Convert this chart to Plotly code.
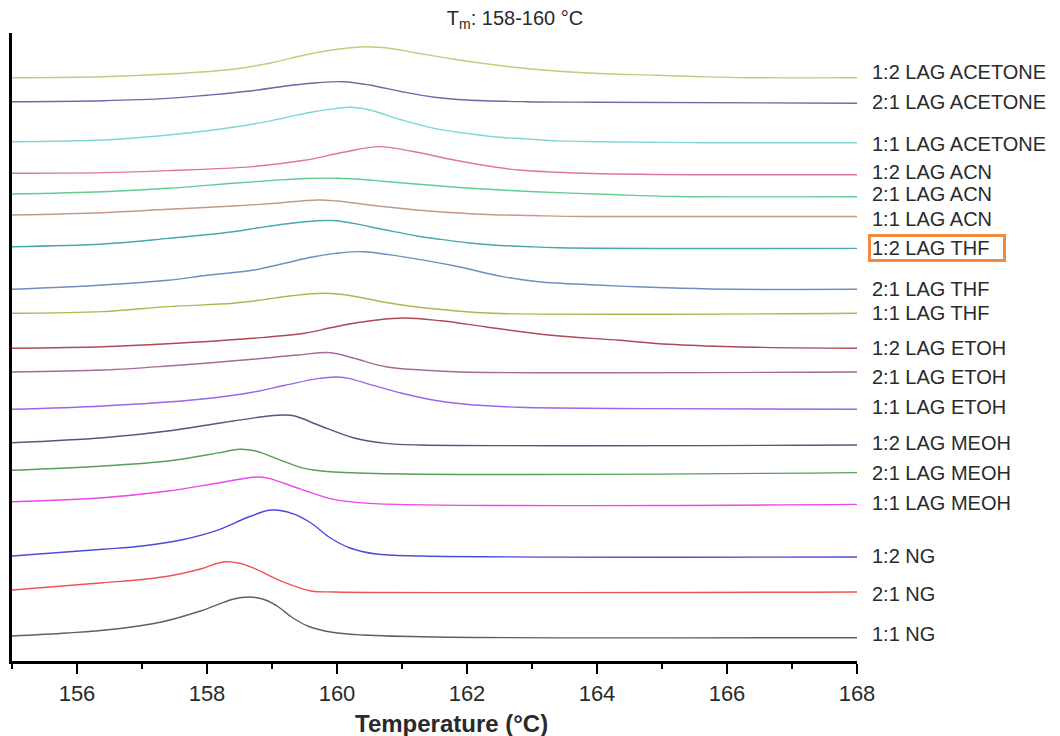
import plotly.graph_objects as go

# Sample names, top to bottom
labels = [
    "1:2 LAG ACETONE", "2:1 LAG ACETONE", "1:1 LAG ACETONE",
    "1:2 LAG ACN", "2:1 LAG ACN", "1:1 LAG ACN",
    "1:2 LAG THF", "2:1 LAG THF", "1:1 LAG THF",
    "1:2 LAG ETOH", "2:1 LAG ETOH", "1:1 LAG ETOH",
    "1:2 LAG MEOH", "2:1 LAG MEOH", "1:1 LAG MEOH",
    "1:2 NG", "2:1 NG", "1:1 NG",
]

colors = [
    "#c6ca7c", "#6a6aa8", "#7ed6d6",
    "#e074aa", "#62cc92", "#c29a86",
    "#48a6ae", "#6e8ebe", "#b4b452",
    "#ae4854", "#a66a98", "#9a66ec",
    "#55557e", "#56a056", "#ec46ec",
    "#4a4ade", "#ee5454", "#606060",
]

# Vertical stacking offset of each DSC trace (arbitrary heat-flow units)
offsets = [583.3, 559.3, 519.3, 487.7, 467.0, 446.0, 414.3, 371.7, 347.7,
           312.7, 289.0, 251.7, 218.3, 190.7, 159.3, 105.0, 71.0, 25.0]

# Temperature samples (°C) and heat-flow readings for each trace
t_acetone_12 = [155.0, 156.4, 157.4, 158.4, 159.0, 159.5, 160.0, 160.45, 160.8, 161.2, 161.8, 162.8, 163.8, 164.9, 165.6, 166.3, 168.0]
h_acetone_12 = [0, 1, 3.7, 8.5, 15, 22.7, 28.5, 31, 29.5, 25, 18.5, 10, 5, 2.5, 1, 0, 0]

t_acetone_21 = [155.0, 156.4, 157.4, 158.0, 158.7, 159.3, 159.7, 160.1, 160.5, 161.0, 161.5, 162.0, 162.9, 164.0, 168.0]
h_acetone_21 = [0, 1, 3.3, 6.5, 11, 16.5, 19, 20, 16.7, 10, 4.5, 1.7, 0, -0.5, -1.5]

t_acetone_11 = [155.0, 156.4, 157.4, 158.0, 158.7, 159.2, 159.6, 160.0, 160.2, 160.5, 161.0, 161.5, 162.0, 162.4, 162.9, 163.4, 164.0, 165.6, 168.0]
h_acetone_11 = [0, 1.7, 6.7, 11, 17.5, 24, 29.5, 33.3, 34.4, 31.7, 21.7, 13.3, 8.3, 5, 2.8, 0.8, 0, -1, -1]

t_acn_12 = [155.0, 156.4, 157.4, 158.7, 159.5, 160.1, 160.65, 161.15, 161.8, 162.4, 162.8, 163.8, 165.6, 168.0]
h_acn_12 = [0, 0.7, 2.7, 6.7, 13, 21, 26.7, 22, 13.3, 6.5, 3.3, 0, -1.5, -1.5]

t_acn_21 = [155.0, 156.4, 157.4, 158.4, 159.0, 159.5, 160.0, 160.4, 160.75, 161.5, 162.0, 163.05, 164.2, 165.2, 168.0]
h_acn_21 = [0, 2.3, 5.7, 10.7, 13.5, 15.5, 15.7, 14.5, 12.5, 8.5, 6, 2.3, -0.5, -2.5, -2.7]

t_acn_11 = [155.0, 156.4, 157.4, 158.4, 159.0, 159.7, 160.0, 160.5, 161.0, 161.4, 162.0, 162.4, 163.0, 163.8, 168.0]
h_acn_11 = [0, 2.3, 5.7, 9, 11.5, 15, 14, 10, 6.5, 4, 1.5, 0.3, -0.5, -1.5, -1.5]

t_thf_12 = [155.0, 156.4, 157.4, 158.4, 158.8, 159.2, 159.7, 160.0, 160.25, 160.75, 161.25, 161.6, 162.0, 162.4, 162.9, 163.4, 168.0]
h_thf_12 = [0, 2.7, 8.3, 15, 19, 22.7, 26, 26, 23.3, 16.7, 10.5, 7.3, 4, 1.7, 0.2, -1, -1.7]

t_thf_21 = [155.0, 156.4, 157.4, 158.0, 158.7, 159.2, 159.6, 160.0, 160.4, 161.0, 161.8, 162.55, 163.1, 164.0, 164.6, 165.3, 166.1, 168.0]
h_thf_21 = [0, 4.3, 9, 14, 19, 26, 32, 36, 37.6, 32.7, 23.5, 12.7, 7.6, 4.3, 2.5, 1, 0, 0]

t_thf_11 = [155.0, 156.4, 157.4, 158.4, 158.8, 159.3, 159.8, 160.15, 160.5, 161.0, 161.8, 162.4, 168.0]
h_thf_11 = [0, 1.7, 6.7, 10, 13, 17.5, 20, 18.3, 14, 8.3, 2.6, 0, 0]

t_etoh_12 = [155.0, 156.4, 157.4, 158.7, 159.5, 159.9, 160.3, 161.0, 161.6, 162.3, 163.3, 164.35, 165.1, 166.1, 168.0]
h_etoh_12 = [0, 1.5, 4.5, 10, 15, 20.5, 25.5, 30.3, 27.5, 21.3, 13, 8, 4, 1.5, 0]

t_etoh_21 = [155.0, 156.4, 157.4, 158.7, 159.4, 159.9, 160.25, 160.75, 161.3, 161.9, 168.0]
h_etoh_21 = [0, 2, 6, 12.7, 17, 19.3, 14, 5.3, 2, 0, 0]

t_etoh_11 = [155.0, 156.4, 157.9, 158.7, 159.2, 159.7, 160.0, 160.2, 160.5, 161.0, 161.5, 161.9, 162.8, 164.9, 168.0]
h_etoh_11 = [0, 3.3, 10, 17, 24, 30.7, 32.3, 30.7, 25, 16, 9, 5.5, 2, 0.7, 0]

t_meoh_12 = [155.0, 156.4, 157.4, 158.4, 158.95, 159.2, 159.35, 159.75, 160.25, 160.75, 161.3, 168.0]
h_meoh_12 = [0, 5, 11.7, 21.7, 26.7, 27.7, 26.7, 16.7, 5, -0.7, -2.3, -2.3]

t_meoh_21 = [155.0, 156.4, 157.4, 158.2, 158.5, 158.75, 159.1, 159.45, 159.95, 168.0]
h_meoh_21 = [0, 4.3, 9.3, 17.7, 21, 19.3, 11, 2.7, -1.7, -2.3]

t_meoh_11 = [155.0, 156.4, 157.4, 158.2, 158.75, 158.95, 159.45, 159.95, 160.5, 168.0]
h_meoh_11 = [0, 4, 10.7, 19, 24.7, 23.3, 12.3, 2.3, -1.7, -2.7]

t_ng_12 = [155.0, 156.4, 157.0, 157.6, 158.2, 158.6, 158.95, 159.1, 159.35, 159.6, 159.9, 160.2, 160.6, 161.3, 168.0]
h_ng_12 = [0, 6.7, 10, 16, 26.7, 38, 45.7, 45.7, 41.7, 33, 18, 8, 2, 0, -1]

t_ng_21 = [155.0, 156.4, 157.0, 157.5, 157.9, 158.25, 158.5, 158.7, 159.2, 159.6, 159.95, 168.0]
h_ng_21 = [0, 7.3, 10.5, 15, 21, 28, 26.7, 22.3, 7.3, -1, -2, -2]

t_ng_11 = [155.0, 155.85, 156.6, 157.3, 157.9, 158.4, 158.65, 158.9, 159.1, 159.3, 159.55, 159.9, 160.4, 161.5, 168.0]
h_ng_11 = [0, 3, 7, 14, 25, 36.7, 39, 36, 29, 19, 10, 4, 1, -1, -1.7]

temps = [t_acetone_12, t_acetone_21, t_acetone_11, t_acn_12, t_acn_21, t_acn_11,
         t_thf_12, t_thf_21, t_thf_11, t_etoh_12, t_etoh_21, t_etoh_11,
         t_meoh_12, t_meoh_21, t_meoh_11, t_ng_12, t_ng_21, t_ng_11]
flows = [h_acetone_12, h_acetone_21, h_acetone_11, h_acn_12, h_acn_21, h_acn_11,
         h_thf_12, h_thf_21, h_thf_11, h_etoh_12, h_etoh_21, h_etoh_11,
         h_meoh_12, h_meoh_21, h_meoh_11, h_ng_12, h_ng_21, h_ng_11]

x_ticks = [156, 158, 160, 162, 164, 166, 168]

# Small vertical nudges (px) so the end labels do not collide
label_nudge = [6, 1, -1, 3, 3, -2.5, 0, 0, 0, 0, -5, 2, 2, 0, 1, 1, -2, 4]
highlighted = "1:2 LAG THF"

FONT = "Liberation Sans, Arial, sans-serif"
TEXT = "#2a2a2a"

fig = go.Figure()
for name, col, off, t, h in zip(labels, colors, offsets, temps, flows):
    fig.add_trace(go.Scatter(
        x=t, y=[off + v for v in h], mode="lines", name=name,
        line=dict(color=col, width=1.4, shape="spline", smoothing=1.0),
        hoverinfo="skip", showlegend=False,
    ))

annotations = []
for name, off, h, dy in zip(labels, offsets, flows, label_nudge):
    ann = dict(
        x=168, y=off + h[-1], xref="x", yref="y",
        text=name, showarrow=False, xanchor="left", yanchor="middle",
        xshift=13, yshift=dy, font=dict(family=FONT, size=20, color=TEXT),
    )
    if name == highlighted:
        ann.update(bordercolor="#ef8a3c", borderwidth=3, borderpad=1,
                   width=130, height=20, align="left", xshift=11)
    annotations.append(ann)

annotations.append(dict(
    x=0.52, y=0, xref="paper", yref="paper", yshift=-62,
    text="<b>Temperature (°C)</b>", showarrow=False,
    xanchor="center", yanchor="middle",
    font=dict(family=FONT, size=24, color=TEXT),
))

fig.update_layout(
    width=1060, height=736,
    margin=dict(l=12, r=203, t=33, b=75),
    paper_bgcolor="white", plot_bgcolor="white",
    title=dict(
        text="T<sub>m</sub>: 158-160 °C",
        x=515 / 1060, xanchor="center", xref="container",
        y=1 - 18 / 736, yanchor="middle", yref="container",
        font=dict(family=FONT, size=20, color=TEXT),
    ),
    annotations=annotations,
    xaxis=dict(
        range=[155, 168], tickvals=x_ticks, showgrid=False, zeroline=False,
        showline=True, linecolor="black", linewidth=3,
        ticks="outside", ticklen=10, tickwidth=2, tickcolor="black",
        ticklabelstandoff=1,
        minor=dict(dtick=1, tick0=155, ticks="outside", ticklen=5,
                   tickwidth=2, tickcolor="black", showgrid=False),
        tickfont=dict(family=FONT, size=22, color=TEXT),
    ),
    yaxis=dict(
        range=[0, 628], showgrid=False, zeroline=False,
        showline=True, linecolor="black", linewidth=3,
        showticklabels=False, ticks="",
    ),
)

fig.write_html("out.html")
